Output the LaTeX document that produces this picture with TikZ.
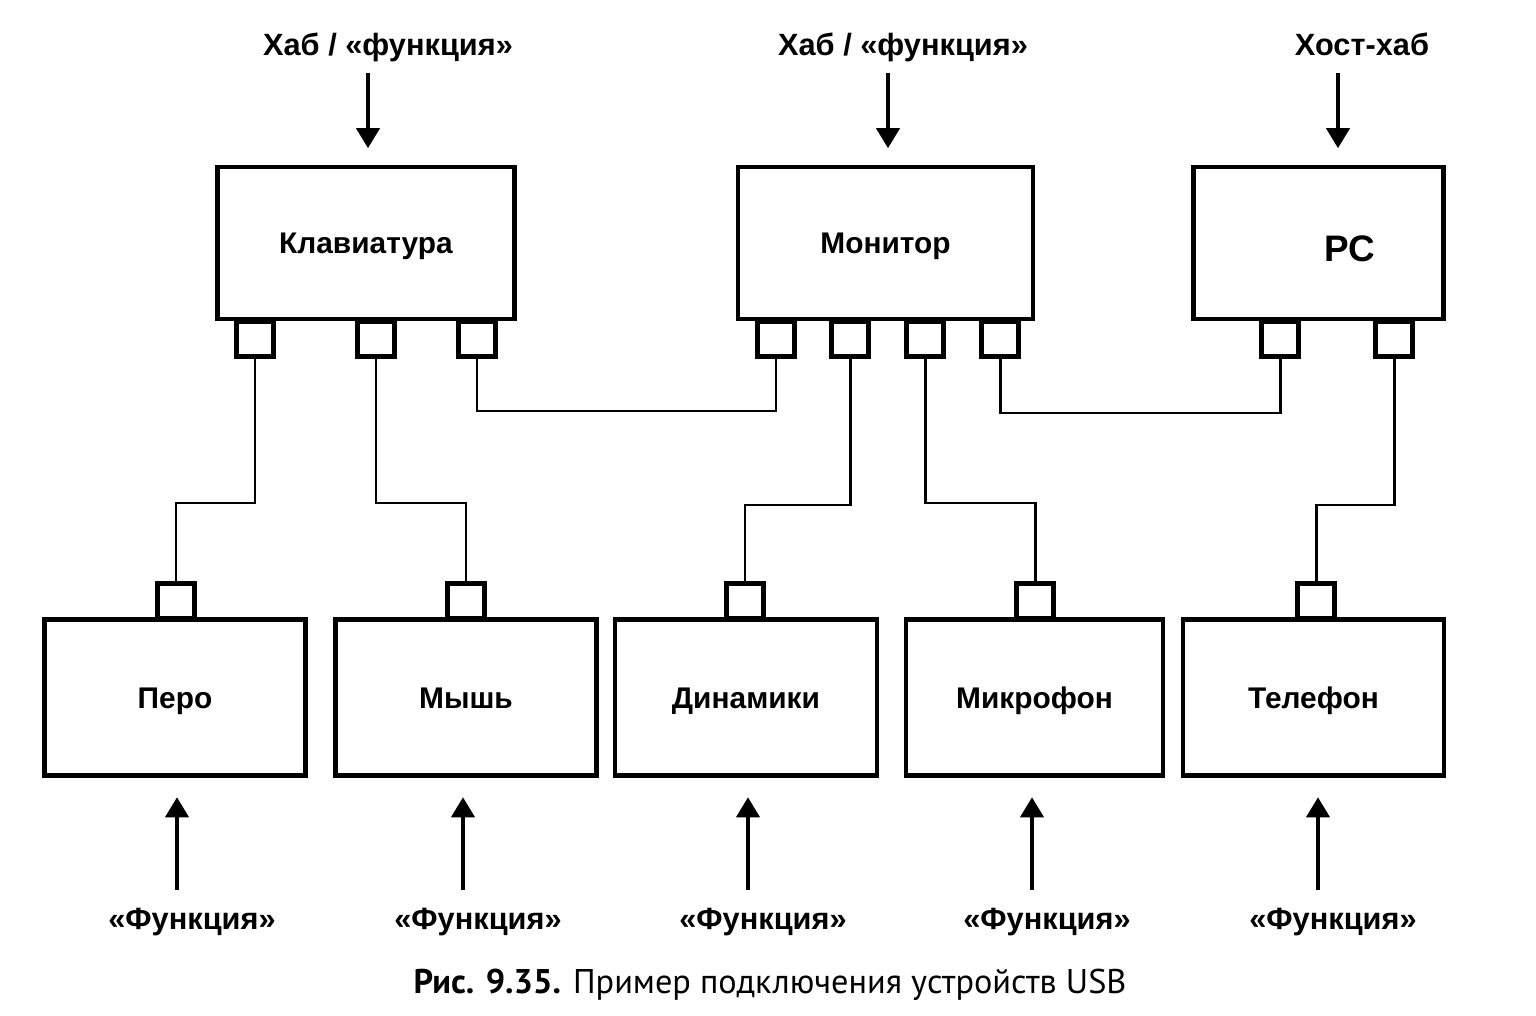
\documentclass[tikz,border=0pt]{standalone}
\usepackage{fontspec}
\setmainfont{Liberation Sans}
\newfontfamily\capfont{PT Sans}
\usetikzlibrary{arrows.meta}

\begin{document}
\begin{tikzpicture}[x=0.02cm, y=-0.02cm,
    dev/.style={draw, line width=2.6pt, inner sep=0pt, minimum height=3.04cm,
      text height=12pt, text depth=0pt,
      font=\bfseries\fontsize{17}{20}\selectfont},
    port/.style={draw, line width=2.6pt, inner sep=0pt, minimum width=0.74cm,
      minimum height=0.7cm},
    lbl/.style={inner sep=0pt, text height=12pt, text depth=4pt,
      font=\bfseries\fontsize{17.5}{20}\selectfont},
    wire/.style={line width=1.7pt},
    arr/.style={line width=2.2pt, -{Triangle[length=0.4cm,width=0.46cm]}}]
  \useasboundingbox (0,0) rectangle (1536,1016);

  % hubs
  \node[dev, minimum width=5.94cm] (kb) at (366, 243) {Клавиатура};
  \node[dev, minimum width=5.9cm] (mon) at (885.5, 243) {Монитор};
  \node[dev, minimum width=5.0cm] (pc) at (1318.5, 243) {};
  \node[anchor=base, inner sep=0pt, font=\bfseries\fontsize{21}{24}\selectfont]
    (pctxt) at (1350, 262) {PC};

  % functions
  \node[dev, minimum width=5.22cm, minimum height=3.12cm] (pero) at (175, 697.5) {Перо};
  \node[dev, minimum width=5.22cm, minimum height=3.12cm] (mysh) at (466, 697.5) {Мышь};
  \node[dev, minimum width=5.24cm, minimum height=3.12cm] (din) at (746, 697.5) {Динамики};
  \node[dev, minimum width=5.14cm, minimum height=3.12cm] (mik) at (1034.5, 697.5) {Микрофон};
  \node[dev, minimum width=5.22cm, minimum height=3.12cm] (tel) at (1313.5, 697.5) {Телефон};

  % ports
  \node[port] (k1) at (255, 339) {};
  \node[port] (k2) at (376, 339) {};
  \node[port] (k3) at (477, 339) {};
  \node[port] (m1) at (776, 339) {};
  \node[port] (m2) at (850, 339) {};
  \node[port] (m3) at (925, 339) {};
  \node[port] (m4) at (1000, 339) {};
  \node[port] (p1) at (1280, 339) {};
  \node[port] (p2) at (1394, 339) {};
  \node[port] (pp) at (176, 601) {};
  \node[port] (pm) at (466, 601) {};
  \node[port] (pd) at (745, 601) {};
  \node[port] (pk) at (1035, 601) {};
  \node[port] (pt) at (1316, 601) {};

  % cables
  \draw[wire] (k1.south) -- (k1.south |- 0,503) -| (pp.north);
  \draw[wire] (k2.south) -- (k2.south |- 0,503) -| (pm.north);
  \draw[wire] (k3.south) -- (k3.south |- 0,411) -| (m1.south);
  \draw[wire] (m2.south) -- (m2.south |- 0,505) -| (pd.north);
  \draw[wire] (m3.south) -- (m3.south |- 0,503) -| (pk.north);
  \draw[wire] (m4.south) -- (m4.south |- 0,413) -| (p1.south);
  \draw[wire] (p2.south) -- (p2.south |- 0,505) -| (pt.north);

  % roles on top
  \node[lbl] (h1) at (388, 48) {Хаб / «функция»};
  \node[lbl] (h2) at (903, 48) {Хаб / «функция»};
  \node[lbl] (h3) at (1362, 48) {Хост-хаб};
  \draw[arr, shorten <=0.22cm, shorten >=0.33cm]
    ([xshift=-0.4cm]h1.south) -- ([xshift=-0.4cm]h1.south |- kb.north);
  \draw[arr, shorten <=0.22cm, shorten >=0.33cm]
    ([xshift=-0.3cm]h2.south) -- ([xshift=-0.3cm]h2.south |- mon.north);
  \draw[arr, shorten <=0.22cm, shorten >=0.33cm]
    ([xshift=-0.48cm]h3.south) -- ([xshift=-0.48cm]h3.south |- pc.north);

  % roles below
  \foreach \b/\x in {pero/192, mysh/478, din/763, mik/1047, tel/1333} {
    \node[lbl] (f\b) at (\x, 922) {«Функция»};
    \draw[arr, shorten <=0.36cm, shorten >=0.39cm]
      ([xshift=-0.3cm]f\b.north) -- ([xshift=-0.3cm]f\b.north |- \b.south);
  }

  \node[inner sep=0pt, font=\capfont\fontsize{19.5}{22}\selectfont] (cap) at (770, 985)
    {\textbf{Рис. 9.35.} Пример подключения устройств USB};
\end{tikzpicture}
\end{document}
